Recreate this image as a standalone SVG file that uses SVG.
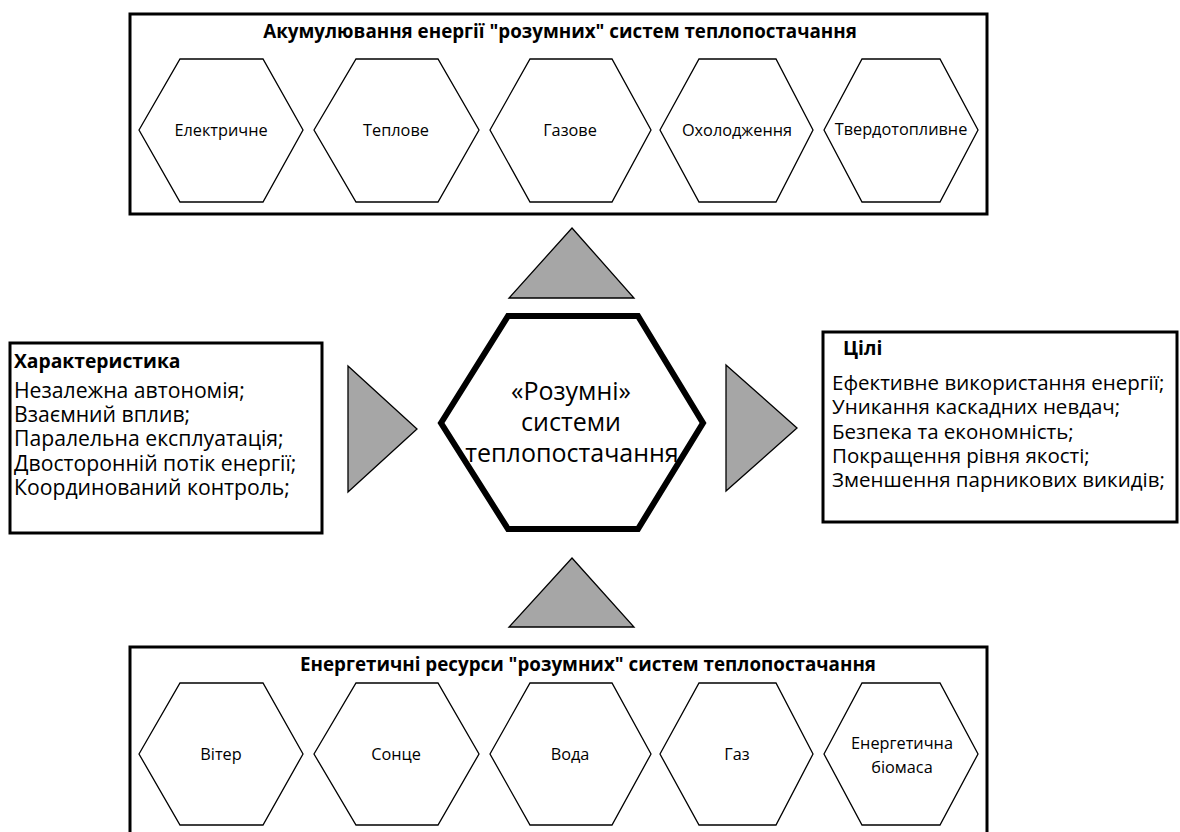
<svg xmlns="http://www.w3.org/2000/svg" width="1180" height="832" viewBox="0 0 1180 832">
<style>
text{font-family:"Open Sans","Noto Sans","Liberation Sans",sans-serif;fill:#000}
.box{fill:#fff;stroke:#000;stroke-width:3}
.hx{fill:#fff;stroke:#000;stroke-width:1.3}
.tri{fill:#a6a6a6;stroke:#000;stroke-width:1.3}
.ttl{font-size:18.8px;font-weight:bold;text-anchor:middle}
.hl{font-size:16.3px;text-anchor:middle}
.ll{font-size:21.2px}
.rl{font-size:20.5px}
.hd{font-size:19.3px;font-weight:bold}
.ctr{font-size:25px;text-anchor:middle}
</style>
<rect width="1180" height="832" fill="#fff"/>
<g id="top-box">
<rect class="box" x="130" y="14" width="857" height="200"/>
<text class="ttl" x="560" y="38">Акумулювання енергії "розумних" систем теплопостачання</text>
</g>
<g id="top-hex-1"><polygon class="hx" points="139,130 180,59 263,59 303,130 263,202 180,202"/><text class="hl" x="221" y="136">Електричне</text></g>
<g id="top-hex-2"><polygon class="hx" points="314,130 356,59 438,59 479,130 438,202 356,202"/><text class="hl" x="396" y="136">Теплове</text></g>
<g id="top-hex-3"><polygon class="hx" points="490,130 530,59 612,59 651,130 612,202 530,202"/><text class="hl" x="570" y="136">Газове</text></g>
<g id="top-hex-4"><polygon class="hx" points="660,130 699,59 776,59 813,130 776,202 699,202"/><text class="hl" x="737" y="136">Охолодження</text></g>
<g id="top-hex-5"><polygon class="hx" points="824,130 862,59 940,59 978,130 940,202 862,202"/><text class="hl" x="901" y="135" font-size="14.5">Твердотопливне</text></g>
<g id="bottom-box">
<rect class="box" x="130" y="647" width="857" height="200"/>
<text class="ttl" x="588" y="671">Енергетичні ресурси "розумних" систем теплопостачання</text>
</g>
<g id="bot-hex-1"><polygon class="hx" points="139,754 180,683 263,683 303,754 263,825 180,825"/><text class="hl" x="221" y="760">Вітер</text></g>
<g id="bot-hex-2"><polygon class="hx" points="314,754 356,683 438,683 479,754 438,825 356,825"/><text class="hl" x="396" y="760">Сонце</text></g>
<g id="bot-hex-3"><polygon class="hx" points="490,754 530,683 612,683 651,754 612,825 530,825"/><text class="hl" x="570" y="760">Вода</text></g>
<g id="bot-hex-4"><polygon class="hx" points="660,754 699,683 776,683 813,754 776,825 699,825"/><text class="hl" x="737" y="760">Газ</text></g>
<g id="bot-hex-5"><polygon class="hx" points="824,754 862,683 940,683 978,754 940,825 862,825"/><text class="hl" x="902" y="749">Енергетична</text><text class="hl" x="902" y="773">біомаса</text></g>
<g id="left-box">
<rect class="box" x="10" y="343" width="312" height="190"/>
<text class="hd" x="14" y="368">Характеристика</text>
<text class="ll" x="14" y="398">Незалежна автономія;</text>
<text class="ll" x="14" y="422">Взаємний вплив;</text>
<text class="ll" x="14" y="446">Паралельна експлуатація;</text>
<text class="ll" x="14" y="471">Двосторонній потік енергії;</text>
<text class="ll" x="14" y="495">Координований контроль;</text>
</g>
<g id="right-box">
<rect class="box" x="823" y="332" width="354" height="190"/>
<text class="hd" x="843" y="355">Цілі</text>
<text class="rl" x="832" y="390">Ефективне використання енергії;</text>
<text class="rl" x="832" y="414">Уникання каскадних невдач;</text>
<text class="rl" x="832" y="439">Безпека та економність;</text>
<text class="rl" x="832" y="463">Покращення рівня якості;</text>
<text class="rl" x="832" y="487">Зменшення парникових викидів;</text>
</g>
<g id="center">
<polygon points="441,423 508,316 638,316 703,423 638,529 508,529" fill="#fff" stroke="#000" stroke-width="6" stroke-linejoin="miter"/>
<text class="ctr" x="571" y="400">«Розумні»</text>
<text class="ctr" x="571" y="431">системи</text>
<text class="ctr" x="572" y="462">теплопостачання</text>
</g>
<g id="connectors">
<polygon class="tri" points="572,228 634,298 509,298"/>
<polygon class="tri" points="572,558 634,627 509,627"/>
<polygon class="tri" points="348,366 417,429 348,492"/>
<polygon class="tri" points="726,365 797,428 726,491"/>
</g>
</svg>
